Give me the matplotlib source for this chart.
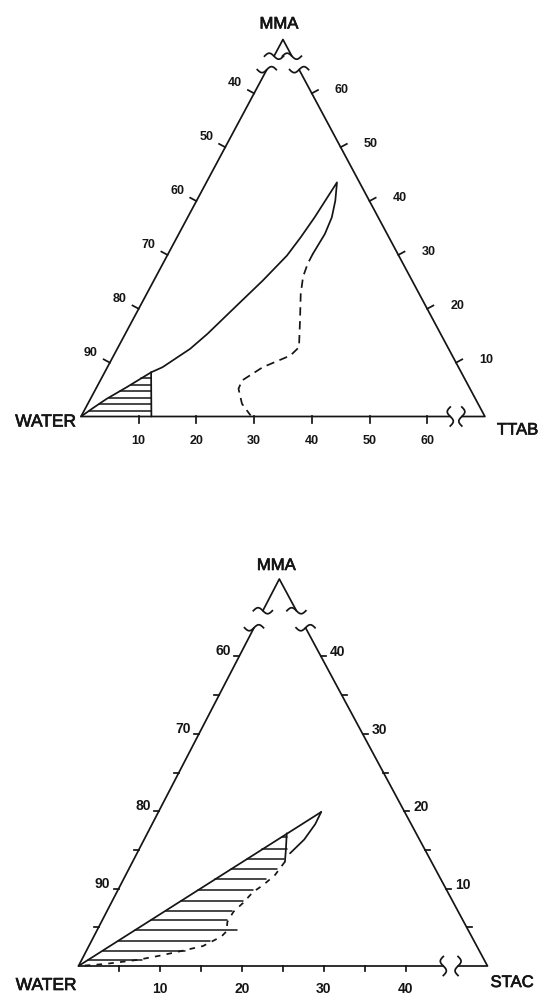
import numpy as np
import matplotlib
matplotlib.use("Agg")
import matplotlib.pyplot as plt
import matplotlib.patheffects as pe

plt.rcParams["font.family"] = ["Liberation Sans", "DejaVu Sans"]
plt.rcParams["lines.scale_dashes"] = False

W, H = 542, 996
INK = "#151515"
LW = 1.25
HEAVY = [pe.withStroke(linewidth=0.5, foreground=INK)]

# ---------------- upper diagram: WATER / TTAB / MMA (wt %), water >= 30 % ----------------
top_names = ["WATER", "TTAB", "MMA"]
top_span = 70
top_gap_edge = [64.4, 66.9]      # MMA % where the slanted edges are broken
top_gap_base = [64.0, 66.0]      # TTAB % where the base is broken
top_ticks = [10, 20, 30, 40, 50, 60]

# hatched two-phase region at the water corner
top_hatch_curve_ttab = [0, 1.33, 2.81, 5.2, 8.05]
top_hatch_curve_mma = [0, 1.61, 3.28, 5.44, 8.2]
top_hatch_side_ttab = [8.05, 12.2]
top_hatch_side_mma = [8.2, 0]
top_hatch_rows = [1.1, 2.3, 3.5, 4.7, 5.9, 7.1]

# solid phase boundary
top_solid_ttab = [8.05, 9.55, 12.63, 14.24, 16.84, 18.88, 20.75, 21.44, 22.0, 22.63,
                  24.04, 24.98, 25.32, 25.08]
top_solid_mma = [8.2, 9.15, 12.56, 15.34, 20.91, 25.23, 29.87, 33.27, 36.98, 43.47,
                 40.07, 36.98, 33.9, 30.19]

# dashed phase boundary
top_dash_ttab = [25.08, 25.11, 25.51, 26.7, 29.05, 31.35, 30.63, 26.92, 24.56, 24.73, 26.72, 29.3]
top_dash_mma = [30.19, 28.33, 25.96, 22.76, 17.81, 12.86, 11.32, 9.15, 6.68, 5.14, 2.36, 0.19]

# ---------------- lower diagram: WATER / STAC / MMA (wt %), water >= 50 % ----------------
bot_names = ["WATER", "STAC", "MMA"]
bot_span = 50
bot_gap_edge = [43.7, 45.9]
bot_gap_base = [44.6, 46.4]
bot_ticks = [5, 10, 15, 20, 25, 30, 35, 40]
bot_labels = [10, 20, 30, 40]

bot_upper_stac = [0, 19.9]
bot_upper_mma = [0, 19.9]
bot_tip_stac = [19.9, 19.94, 19.57, 18.71]
bot_tip_mma = [19.9, 18.33, 16.34, 14.56]
bot_side_stac = [17.04, 17.9, 18.62]
bot_side_mma = [17.14, 15.2, 13.48]
bot_dash_stac = [18.62, 18.25, 17.45, 16.64, 16.11, 15.5, 15.4, 15.9, 15.6, 13.95, 11.15,
                 9.09, 6.77, 3.1, 0]
bot_dash_mma = [13.48, 11.76, 10.47, 9.56, 8.14, 7.0, 5.7, 4.5, 3.8, 2.58, 1.81,
                1.29, 0.78, 0.26, 0]
bot_hatch_mma = [16.7, 15.08, 13.79, 12.49, 11.2, 9.82, 8.44, 7.14, 5.94, 4.65, 3.27, 1.98, 0.78]
bot_hatch_end = [17.3, 18.05, 18.35, 18.1, 17.42, 16.55, 15.93, 15.22, 15.2, 17.06, 14.47,
                 12.05, 7.35]

fig = plt.figure(figsize=(W / 100, H / 100), dpi=100)


def panel(x0, y0, sx, sy, k):
    # x0, y0: pixel position of the water corner, sx/sy: pixels per %
    ax = fig.add_axes([0, 0, 1, 1])
    ax.set_xlim(-x0 / sx, (W - x0) / sx)
    ax.set_ylim((y0 - H) / sy, y0 / sy)
    ax.axis("off")
    ax.patch.set_alpha(0)
    return {"ax": ax, "sx": sx, "sy": sy, "k": k}


def xy(p, t, m):
    t = np.asarray(t, float)
    m = np.asarray(m, float)
    return t + p["k"] * m, m


def line(p, t, m, lw=LW, **kw):
    x, y = xy(p, t, m)
    p["ax"].plot(x, y, color=INK, lw=lw, solid_capstyle="round", **kw)


def step(p, dx, dy):
    # pixel offset (y down) -> data offset
    return np.asarray(dx) / p["sx"], -np.asarray(dy) / p["sy"]


def squiggle(p, t, m, orient, flip=1, half=9.5, amp=3.0):
    x, y = xy(p, t, m)
    s = np.linspace(-1, 1, 40)
    if orient == "h":
        dx, dy = s * half, -flip * amp * np.sin(np.pi * s)
    else:
        dx, dy = flip * amp * np.sin(np.pi * s), s * half
    ux, uy = step(p, dx, dy)
    p["ax"].plot(x + ux, y + uy, color=INK, lw=LW)


def frame(p, span, gap_edge, gap_base):
    a, b = gap_edge
    c, d = gap_base
    line(p, [0, 0, c], [a, 0, 0])
    line(p, [0, 0, span - b], [b, span, b])
    line(p, [span - a, span, d], [a, 0, 0])
    for i, m in enumerate(gap_edge):
        squiggle(p, 0, m, "h", flip=1 if i == 0 else -1)
        squiggle(p, span - m, m, "h", flip=1 if i == 0 else -1)
    for i, t in enumerate(gap_base):
        squiggle(p, t, 0, "v", flip=1 if i == 0 else -1)


def tick(p, t, m, vec, length, text=None, off=(0, 0), fs=9):
    x, y = xy(p, t, m)
    ux, uy = step(p, vec[0] * length, vec[1] * length)
    p["ax"].plot([x, x + ux], [y, y + uy], color=INK, lw=LW)
    if text is not None:
        p["ax"].annotate(text, (x, y), xytext=off, textcoords="offset pixels",
                         ha="center", va="baseline", fontsize=fs,
                         fontweight="bold", color=INK)


def name(p, t, m, text, off, ha, fs=12):
    x, y = xy(p, t, m)
    p["ax"].annotate(text, (x, y), xytext=off, textcoords="offset pixels",
                     ha=ha, va="baseline", fontsize=fs, color=INK,
                     path_effects=HEAVY)


def normals(p):
    sx, sy, k = p["sx"], p["sy"], p["k"]
    left = np.array([-sy, -k * sx])
    right = np.array([sy, -(1 - k) * sx])
    return left / np.hypot(*left), right / np.hypot(*right)


# ---------------- upper diagram ----------------
top = panel(81, 416.5, 5.77, 5.386, 0.5)
frame(top, top_span, top_gap_edge, top_gap_base)
n_left, n_right = normals(top)
for v in top_ticks:
    tick(top, 0, v, n_left, 7, str(100 - v), (-19, 7))
    tick(top, top_span - v, v, n_right, 7, str(v), (30, 0))
    tick(top, v, 0, (0, 1), 7, str(v), (0, -28))

name(top, 0, top_span, top_names[2], (-4, 11), "center")
name(top, 0, 0, top_names[0], (-5, -10), "right", fs=12.5)
name(top, top_span, 0, top_names[1], (12, -18), "left")

line(top, top_hatch_curve_ttab, top_hatch_curve_mma)
line(top, top_hatch_side_ttab, top_hatch_side_mma)
for m in top_hatch_rows:
    t_left = np.interp(m, top_hatch_curve_mma, top_hatch_curve_ttab)
    t_right = np.interp(m, top_hatch_side_mma[::-1], top_hatch_side_ttab[::-1])
    line(top, [t_left, t_right], [m, m], lw=1.1)
line(top, top_solid_ttab, top_solid_mma)
line(top, top_dash_ttab, top_dash_mma, dashes=(6, 4))

# ---------------- lower diagram ----------------
bot = panel(78.5, 966, 8.18, 7.74, 0.491)
frame(bot, bot_span, bot_gap_edge, bot_gap_base)
for v in bot_ticks:
    lab = v in bot_labels
    tick(bot, 0, v, (-1, 0), 5, str(100 - v) if lab else None, (-16, 1), fs=10)
    tick(bot, bot_span - v, v, (1, 0), 5, str(v) if lab else None, (17, 0), fs=10)
    tick(bot, v, 0, (0, 1), 5, str(v) if lab else None, (0, -27), fs=10)

name(bot, 0, bot_span, bot_names[2], (-3, 9), "center")
name(bot, 0, 0, bot_names[0], (-2, -24), "right", fs=12.5)
name(bot, bot_span, 0, bot_names[1], (3, -21), "left")

line(bot, bot_upper_stac, bot_upper_mma)
line(bot, bot_tip_stac, bot_tip_mma)
line(bot, bot_side_stac, bot_side_mma)
line(bot, bot_dash_stac, bot_dash_mma, dashes=(4, 4.5))
for m, t_end in zip(bot_hatch_mma, bot_hatch_end):
    t_left = np.interp(m, bot_upper_mma, bot_upper_stac)
    line(bot, [t_left, t_end], [m, m], lw=1.1)

fig.savefig("out.png", dpi=100, facecolor="white")
